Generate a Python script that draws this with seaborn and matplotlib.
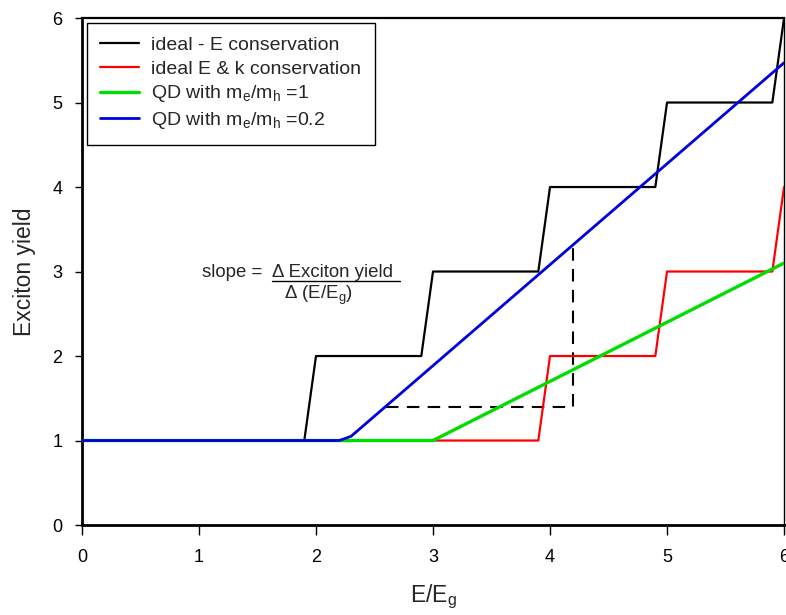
import matplotlib
matplotlib.use("Agg")
import matplotlib.pyplot as plt
import seaborn as sns
import pandas as pd

# ---- data ----
black_x = [0, 1.9, 2.0, 2.9, 3.0, 3.9, 4.0, 4.9, 5.0, 5.9, 6.0]
black_y = [1, 1, 2, 2, 3, 3, 4, 4, 5, 5, 6]
red_x = [0, 3.9, 4.0, 4.9, 5.0, 5.9, 6.0]
red_y = [1, 1, 2, 2, 3, 3, 4]
green_x = [0, 3.0, 6.0]
green_y = [1, 1, 3.1]
blue_x = [0, 2.2, 2.3, 6.0]
blue_y = [1, 1, 1.05, 5.47]
dash_x = [2.6, 4.2, 4.2]
dash_y = [1.4, 1.4, 3.3]
labels = ["ideal - E conservation", "ideal E & k conservation",
          r"QD with m$_\mathregular{e}$/m$_\mathregular{h}$ =1",
          r"QD with m$_\mathregular{e}$/m$_\mathregular{h}$ =0.2"]
xticks = [0, 1, 2, 3, 4, 5, 6]
yticks = [0, 1, 2, 3, 4, 5, 6]

sns.set_theme(style="ticks")
plt.rcParams['font.family'] = ['Liberation Sans', 'DejaVu Sans']
plt.rcParams['mathtext.fontset'] = 'custom'
plt.rcParams['mathtext.rm'] = 'Liberation Sans'
plt.rcParams['mathtext.it'] = 'Liberation Sans:italic'
plt.rcParams['mathtext.bf'] = 'Liberation Sans:bold'

fig = plt.figure(figsize=(7.86, 6.15), dpi=100)
ax = fig.add_axes([0.1043, 0.1463, 0.8932, 0.8244])

series = [(black_x, black_y, "black", 1.6, labels[0]),
          (red_x, red_y, "#ff0000", 1.6, labels[1]),
          (green_x, green_y, "#00dd00", 2.4, labels[2]),
          (blue_x, blue_y, "#0000dd", 2.0, labels[3])]
for xs, ys, c, lw, lab in series:
    df = pd.DataFrame({"x": xs, "y": ys})
    sns.lineplot(data=df, x="x", y="y", sort=False, estimator=None, color=c,
                 lw=lw, label=lab, ax=ax, zorder=3)

ddf = pd.DataFrame({"x": dash_x, "y": dash_y})
sns.lineplot(data=ddf, x="x", y="y", sort=False, estimator=None, color="black",
             lw=1.5, ax=ax, linestyle=(0, (6, 4)), legend=False, zorder=2)

ax.set_xlim(0, 6)
ax.set_ylim(0, 6)
ax.set_xticks(xticks)
ax.set_yticks(yticks)
ax.tick_params(axis='both', labelsize=13, colors='black', direction='out', width=1)
ax.tick_params(axis='x', length=7, pad=10)
ax.tick_params(axis='y', length=5, pad=9)
for s, w in zip(["left", "bottom", "top", "right"], [2.0, 2.0, 1.6, 1.0]):
    ax.spines[s].set_visible(True)
    ax.spines[s].set_linewidth(w)
    ax.spines[s].set_color("black")

ax.set_xlabel(r"E/E$_\mathregular{g}$", fontsize=16.5, labelpad=12)
ax.set_ylabel("Exciton yield", fontsize=16.5, labelpad=12)

leg = ax.legend(loc="upper left", fontsize=14, frameon=True, fancybox=False,
                edgecolor="black", handlelength=2.0, handletextpad=0.6,
                labelspacing=0.3, borderaxespad=0.25, borderpad=0.7)
leg.get_frame().set_linewidth(1.0)
leg.get_frame().set_alpha(1)

# annotation
ax.text(1.03, 2.93, "slope = ", fontsize=13.4, ha="left", va="baseline")
ax.text(1.62, 2.93, "Δ Exciton yield", fontsize=13.4, ha="left", va="baseline")
ax.plot([1.62, 2.72], [2.89, 2.89], color="black", lw=1)
ax.text(2.02, 2.68, r"Δ (E/E$_\mathregular{g}$)", fontsize=13.4, ha="center", va="baseline")

fig.savefig("out.png", dpi=100)
